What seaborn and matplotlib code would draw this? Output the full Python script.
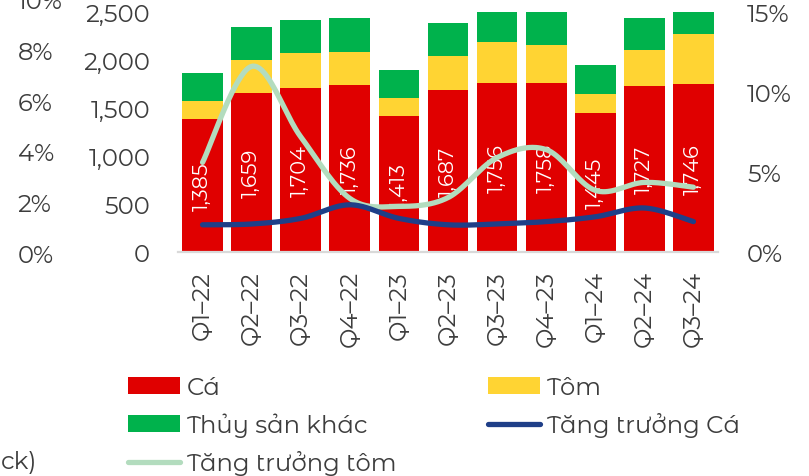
import numpy as np
import pandas as pd
import matplotlib
matplotlib.use("Agg")
import matplotlib.pyplot as plt
from matplotlib.patches import Patch
from matplotlib.lines import Line2D
import seaborn as sns

# Quarterly seafood export value (left axis) and growth rates (right axis, %)
quarters = ["Q1–22", "Q2–22", "Q3–22", "Q4–22", "Q1–23", "Q2–23",
            "Q3–23", "Q4–23", "Q1–24", "Q2–24", "Q3–24"]
ca = [1385, 1659, 1704, 1736, 1413, 1687, 1756, 1758, 1445, 1727, 1746]
tom = [184, 339, 374, 349, 187, 353, 427, 400, 197, 372, 527]
khac = [293, 345, 335, 349, 300, 345, 350, 360, 307, 342, 330]
tang_truong_ca = [1.7, 1.75, 2.1, 2.95, 2.1, 1.7, 1.75, 1.9, 2.2, 2.75, 1.9]
tang_truong_tom = [5.6, 11.6, 7.2, 3.35, 2.85, 3.4, 5.9, 6.4, 3.85, 4.35, 4.05]
left_ticks = [0, 500, 1000, 1500, 2000, 2500]
right_ticks = [0, 5, 10, 15]
side_ticks = [0, 2, 4, 6, 8, 10]

RED = "#e00000"
YELLOW = "#ffd433"
GREEN = "#00b24c"
BLUE = "#1f3f88"
LIGHT = "#b3dcbe"
TEXT = "#3d3d3d"
FS = 17.5

sns.set_theme(style="white")
plt.rcParams["font.family"] = ["Montserrat Alternates", "DejaVu Sans"]
plt.rcParams["font.weight"] = "normal"
plt.rcParams["text.color"] = TEXT

W, H = 809, 477
fig = plt.figure(figsize=(W / 100, H / 100), dpi=100)
ax = fig.add_axes([178 / W, 1 - 253 / H, 540 / W, 240 / H])

df = pd.DataFrame({"quy": quarters, "ca": ca, "tom": tom, "khac": khac})
df["ca_tom"] = df["ca"] + df["tom"]
df["tong"] = df["ca_tom"] + df["khac"]

# stacked bars: draw the cumulative totals from the top segment down
for col, colr in [("tong", GREEN), ("ca_tom", YELLOW), ("ca", RED)]:
    sns.barplot(data=df, x="quy", y=col, color=colr, saturation=1,
                width=0.83, errorbar=None, ax=ax, edgecolor="none")

ax.bar_label(ax.containers[2], labels=[f"{v:,}" for v in ca],
             label_type="center", rotation=90, color="white", fontsize=15)

ax.set_xlim(-0.5, len(quarters) - 0.5)
ax.set_ylim(0, 2500)
ax.set_yticks(left_ticks)
ax.set_yticklabels([f"{v:,}" for v in left_ticks])
ax.set_xticks(range(len(quarters)))
ax.set_xticklabels(quarters, rotation=90)
ax.set_xlabel("")
ax.set_ylabel("")
ax.tick_params(axis="y", length=0, pad=20, labelsize=FS, labelcolor=TEXT)
ax.tick_params(axis="x", length=0, pad=13, labelsize=FS, labelcolor=TEXT)
for s in ["top", "left", "right"]:
    ax.spines[s].set_visible(False)
ax.spines["bottom"].set_color("#d9d9d9")
ax.spines["bottom"].set_linewidth(1.6)


def smooth(y, n=40):
    """Catmull-Rom style smoothing through every point."""
    x = np.arange(len(y), dtype=float)
    y = np.asarray(y, dtype=float)
    P = np.column_stack([x, y])
    out = []
    for i in range(len(P) - 1):
        p0 = P[i - 1] if i > 0 else P[i]
        p1, p2 = P[i], P[i + 1]
        p3 = P[i + 2] if i + 2 < len(P) else P[i + 1]
        c1 = p1 + (p2 - p0) / 6
        c2 = p2 - (p3 - p1) / 6
        t = np.linspace(0, 1, n)[:, None]
        seg = ((1 - t) ** 3) * p1 + 3 * ((1 - t) ** 2) * t * c1 \
            + 3 * (1 - t) * t ** 2 * c2 + t ** 3 * p2
        out.append(seg if i == 0 else seg[1:])
    pts = np.vstack(out)
    return pts[:, 0], pts[:, 1]


ax2 = ax.twinx()
for series, colr in [(tang_truong_tom, LIGHT), (tang_truong_ca, BLUE)]:
    sx, sy = smooth(series)
    ax2.plot(sx, sy, color=colr, lw=3.8, solid_capstyle="round")
ax2.set_ylim(0, 15)
ax2.set_yticks(right_ticks)
ax2.set_yticklabels([f"{v}%" for v in right_ticks])
ax2.tick_params(axis="y", length=0, pad=21, labelsize=FS, labelcolor=TEXT)
for s in ["top", "left", "right", "bottom"]:
    ax2.spines[s].set_visible(False)
ax2.grid(False)
ax.grid(False)

# percentage scale at the far left edge
ax_side = fig.add_axes([0, 1 - 254 / H, 18 / W, 254 / H])
ax_side.set_ylim(0, 10)
ax_side.set_yticks(side_ticks)
ax_side.set_yticklabels([f"{v}%" for v in side_ticks])
ax_side.yaxis.tick_right()
ax_side.tick_params(axis="y", length=0, pad=0, labelsize=FS, labelcolor=TEXT)
ax_side.set_xticks([])
ax_side.patch.set_visible(False)
for s in ax_side.spines.values():
    s.set_visible(False)

fig.text(1 / W, 1 - 463 / H, "ck)", ha="left", va="center",
         fontsize=FS, color=TEXT)

# legend in two columns
h_ca = Patch(facecolor=RED, edgecolor="none")
h_tom = Patch(facecolor=YELLOW, edgecolor="none")
h_khac = Patch(facecolor=GREEN, edgecolor="none")
h_lca = Line2D([0], [0], color=BLUE, lw=3.8, solid_capstyle="round")
h_ltom = Line2D([0], [0], color=LIGHT, lw=3.8, solid_capstyle="round")
common = dict(loc="upper left", frameon=False, borderpad=0, borderaxespad=0,
              handlelength=2.15, handleheight=0.7, handletextpad=0.25,
              labelspacing=0.55, fontsize=FS, labelcolor=TEXT)
fig.legend([h_ca, h_khac, h_ltom], ["Cá", "Thủy sản khác", "Tăng trưởng tôm"],
           bbox_to_anchor=(128 / W, 1 - 377 / H), **common)
fig.legend([h_tom, h_lca], ["Tôm", "Tăng trưởng Cá"],
           bbox_to_anchor=(488 / W, 1 - 377 / H), **common)

fig.savefig("out.png", dpi=100)
